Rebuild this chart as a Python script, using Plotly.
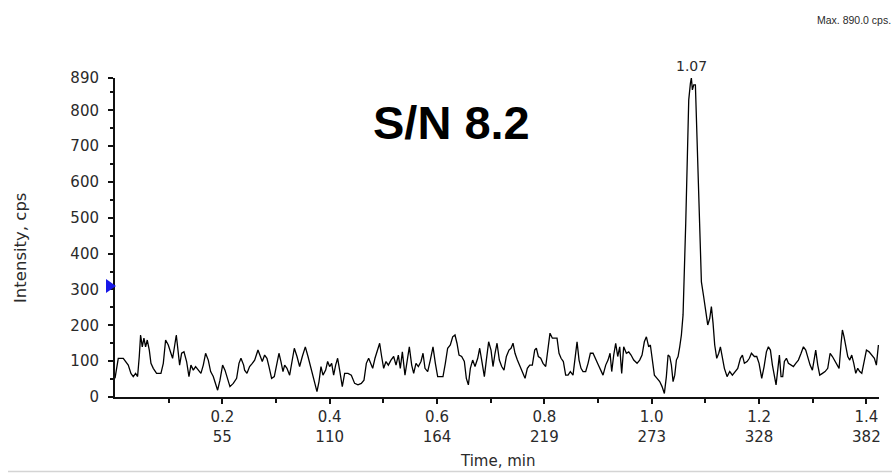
import plotly.graph_objects as go

# ---------------- data ----------------
t_seg1 = [0.000, 0.0061, 0.0154, 0.0198, 0.0247, 0.0297, 0.0340, 0.0384, 0.0421, 0.0452,
          0.0477, 0.0508, 0.0539, 0.0570, 0.0601, 0.0639, 0.0670, 0.0713, 0.0775, 0.0856,
          0.0900, 0.0943, 0.0993, 0.1042, 0.1073, 0.1104, 0.1142, 0.1173, 0.1204, 0.1241,
          0.1285, 0.1334, 0.1378, 0.1415, 0.1459, 0.1502, 0.1552, 0.1601, 0.1645, 0.1688,
          0.1738, 0.1782, 0.1831, 0.1875, 0.1912, 0.1956, 0.2005, 0.2049, 0.2098, 0.2142,
          0.2204, 0.2266, 0.2310, 0.2347, 0.2397]
i_seg1 = [52, 108, 108, 99, 89, 66, 57, 66, 57, 113,
          173, 140, 164, 140, 159, 131, 94, 80, 66, 66,
          94, 159, 145, 122, 108, 136, 173, 131, 89, 122,
          126, 99, 57, 89, 75, 85, 75, 66, 89, 122,
          103, 71, 57, 38, 19, 47, 89, 75, 47, 29,
          38, 52, 94, 108, 89]

t_seg2 = [0.2415, 0.2459, 0.2508, 0.2558, 0.2602, 0.2664, 0.2707, 0.2744, 0.2788, 0.2831,
          0.2869, 0.2918, 0.2968, 0.3005, 0.3055, 0.3092, 0.3130, 0.3161, 0.3204, 0.3254,
          0.3304, 0.3341, 0.3391, 0.3440, 0.3490, 0.3546, 0.3596, 0.3639, 0.3676, 0.3720,
          0.3763, 0.3801, 0.3838, 0.3875, 0.3925, 0.3962, 0.3999, 0.4037, 0.4074, 0.4111,
          0.4148, 0.4186, 0.4235, 0.4279, 0.4341, 0.4403, 0.4465, 0.4527, 0.4589, 0.4639,
          0.4683, 0.4726, 0.4776]
i_seg2 = [75, 66, 85, 94, 103, 131, 113, 99, 117, 108,
          85, 52, 57, 85, 122, 99, 71, 89, 80, 61,
          103, 136, 113, 85, 113, 140, 113, 89, 61, 38,
          15, 43, 85, 61, 75, 99, 85, 94, 61, 89,
          108, 75, 29, 66, 66, 61, 38, 34, 38, 47,
          94, 108, 89]

t_seg3 = [0.4801, 0.4844, 0.4894, 0.4931, 0.4968, 0.5006, 0.5049, 0.5093, 0.5142, 0.5192,
          0.5236, 0.5279, 0.5316, 0.5354, 0.5403, 0.5441, 0.5484, 0.5528, 0.5565, 0.5608,
          0.5652, 0.5701, 0.5739, 0.5776, 0.5826, 0.5875, 0.5925, 0.5969, 0.6012, 0.6062,
          0.6111, 0.6155, 0.6198, 0.6248, 0.6292, 0.6335, 0.6372, 0.6410, 0.6459, 0.6509,
          0.6546, 0.6584, 0.6621, 0.6664, 0.6708, 0.6758, 0.6795, 0.6832, 0.6882, 0.6919,
          0.6962, 0.7006, 0.7043, 0.7081, 0.7118, 0.7161]
i_seg3 = [80, 108, 136, 150, 113, 80, 99, 89, 103, 113,
          89, 117, 80, 126, 61, 94, 140, 89, 66, 94,
          85, 99, 122, 80, 71, 103, 140, 94, 57, 57,
          57, 94, 136, 145, 168, 173, 150, 117, 113, 99,
          52, 34, 80, 103, 85, 108, 136, 103, 57, 103,
          154, 131, 85, 122, 150, 103]

t_seg4 = [0.7205, 0.7248, 0.7292, 0.7341, 0.7379, 0.7416, 0.7453, 0.7497, 0.7540, 0.7590,
          0.7640, 0.7683, 0.7727, 0.7776, 0.7820, 0.7851, 0.7888, 0.7932, 0.7975, 0.8025,
          0.8068, 0.8105, 0.8149, 0.8192, 0.8236, 0.8273, 0.8311, 0.8354, 0.8397, 0.8441,
          0.8484, 0.8534, 0.8571, 0.8609, 0.8646, 0.8683, 0.8720, 0.8770, 0.8814, 0.8857,
          0.8907, 0.8957, 0.9006, 0.9050, 0.9093, 0.9143, 0.9186, 0.9224, 0.9255, 0.9292,
          0.9329, 0.9367, 0.9404, 0.9441, 0.9478, 0.9528]
i_seg4 = [85, 75, 113, 131, 136, 150, 122, 103, 89, 71,
          52, 80, 89, 89, 131, 136, 113, 108, 94, 85,
          136, 178, 164, 164, 164, 122, 108, 99, 61, 61,
          71, 61, 113, 154, 103, 80, 71, 71, 94, 122,
          122, 103, 89, 75, 61, 89, 103, 122, 71, 117,
          150, 113, 140, 66, 140, 122]

t_seg5 = [0.9572, 0.9615, 0.9665, 0.9727, 0.9776, 0.9820, 0.9863, 0.9901, 0.9944, 0.9975,
          1.0006, 1.0050, 1.0100, 1.0149, 1.0193, 1.0236, 1.0273, 1.0305, 1.0336, 1.0367,
          1.0398, 1.0429, 1.0460, 1.0491, 1.0522, 1.0553, 1.0584, 1.0609, 1.0634, 1.0665,
          1.0690, 1.0721, 1.0739, 1.0758, 1.0783, 1.0814, 1.0845, 1.0888, 1.0926, 1.0969,
          1.1007, 1.1044, 1.1081, 1.1112, 1.1143, 1.1174, 1.1212, 1.1249, 1.1280, 1.1317,
          1.1354, 1.1404, 1.1454, 1.1503, 1.1559, 1.1603, 1.1653, 1.1690, 1.1727, 1.1777,
          1.1820, 1.1858, 1.1913]
i_seg5 = [126, 117, 103, 94, 103, 117, 154, 168, 140, 145,
          113, 61, 52, 43, 29, 10, 57, 117, 113, 89,
          43, 61, 103, 113, 140, 173, 229, 331, 485, 675,
          829, 875, 890, 857, 871, 871, 712, 447, 321, 279,
          233, 201, 219, 252, 206, 145, 108, 122, 140, 113,
          80, 57, 71, 61, 71, 80, 108, 117, 94, 99,
          108, 122, 113]

t_seg6 = [1.1957, 1.2000, 1.2050, 1.2094, 1.2137, 1.2174, 1.2212, 1.2249, 1.2286, 1.2317,
          1.2348, 1.2379, 1.2410, 1.2441, 1.2472, 1.2510, 1.2547, 1.2591, 1.2640, 1.2684,
          1.2733, 1.2783, 1.2827, 1.2870, 1.2907, 1.2951, 1.2994, 1.3032, 1.3056, 1.3094,
          1.3131, 1.3181, 1.3230, 1.3280, 1.3324, 1.3367, 1.3404, 1.3448, 1.3491, 1.3529,
          1.3553, 1.3584, 1.3616, 1.3653, 1.3690, 1.3727, 1.3765, 1.3802, 1.3839, 1.3876,
          1.3914, 1.3957, 1.4001, 1.4050, 1.4100, 1.4149, 1.4186, 1.4224]
i_seg6 = [113, 94, 52, 85, 126, 140, 131, 89, 52, 34,
          75, 117, 57, 57, 99, 108, 94, 89, 85, 94,
          103, 122, 140, 131, 108, 89, 75, 103, 131, 89,
          61, 66, 71, 80, 122, 113, 103, 89, 80, 150,
          187, 168, 136, 113, 103, 117, 94, 66, 80, 71,
          66, 99, 131, 126, 117, 108, 89, 145]

time_ticks = [0.2, 0.4, 0.6, 0.8, 1.0, 1.2, 1.4]
time_tick_labels = ["0.2", "0.4", "0.6", "0.8", "1.0", "1.2", "1.4"]
scan_tick_labels = ["55", "110", "164", "219", "273", "328", "382"]
time_minor_ticks = [0.1, 0.3, 0.5, 0.7, 0.9, 1.1, 1.3]
intensity_ticks = [0, 100, 200, 300, 400, 500, 600, 700, 800, 890]
intensity_minor_ticks = [50, 150, 250, 350, 450, 550, 650, 750, 850]
x_max = 1.4235
sn_text = "S/N 8.2"
marker_level = 310

times = t_seg1 + t_seg2 + t_seg3 + t_seg4 + t_seg5 + t_seg6
intensity = i_seg1 + i_seg2 + i_seg3 + i_seg4 + i_seg5 + i_seg6
y_max = max(intensity)
peak_time = times[intensity.index(y_max)]

FONT = "DejaVu Sans"
TXT = "#2a2a2a"

fig = go.Figure()
fig.add_trace(go.Scatter(x=times, y=intensity, mode="lines",
                         line=dict(color="black", width=1.3), hoverinfo="skip",
                         showlegend=False))

W, H = 892, 473
ml, mr, mt, mb = 115, 13, 78, 76
pw, ph = W - ml - mr, H - mt - mb

fig.update_layout(
    width=W, height=H,
    margin=dict(l=ml, r=mr, t=mt, b=mb, pad=0),
    paper_bgcolor="white", plot_bgcolor="white",
    showlegend=False,
    font=dict(family=FONT, size=15, color=TXT),
    xaxis=dict(
        range=[0, x_max], showgrid=False, zeroline=False,
        showline=True, linecolor="#111", linewidth=2,
        tickmode="array", tickvals=time_ticks,
        ticktext=[f"{a}<br>{b}" for a, b in zip(time_tick_labels, scan_tick_labels)],
        ticks="outside", ticklen=5, tickwidth=1.5, tickcolor="#111",
        tickfont=dict(family=FONT, size=15, color=TXT),
        minor=dict(tickmode="array", tickvals=time_minor_ticks, ticks="outside",
                   ticklen=4, tickwidth=1.5, tickcolor="#111"),
    ),
    yaxis=dict(
        range=[0, y_max], showgrid=False, zeroline=False,
        showline=True, linecolor="#111", linewidth=2,
        tickmode="array", tickvals=intensity_ticks,
        ticks="outside", ticklen=5, tickwidth=1.5, tickcolor="#111",
        ticklabelstandoff=6,
        tickfont=dict(family=FONT, size=15, color=TXT),
        minor=dict(tickmode="array", tickvals=intensity_minor_ticks, ticks="outside",
                   ticklen=3, tickwidth=1.5, tickcolor="#111"),
    ),
)

def px_x(p):
    return (p - ml) / pw

def px_y(p):
    return (H - mb - p) / ph

annotations = [
    # y-axis title
    dict(text="Intensity, cps", textangle=-90, xref="paper", yref="paper",
         x=px_x(20), y=px_y(248), xanchor="center", yanchor="middle", showarrow=False,
         font=dict(family=FONT, size=16.5, color=TXT)),
    # x-axis title
    dict(text="Time, min", xref="paper", yref="paper", x=px_x(498), y=px_y(461),
         xanchor="center", yanchor="middle", showarrow=False,
         font=dict(family=FONT, size=15, color=TXT)),
    # peak label
    dict(text=f"{peak_time:.2f}", xref="x", yref="y", x=peak_time, y=y_max,
         xanchor="center", yanchor="bottom", yshift=2, showarrow=False,
         font=dict(family=FONT, size=14, color=TXT)),
    # max label
    dict(text=f"Max. {y_max:.1f} cps.", xref="paper", yref="paper", x=px_x(893), y=px_y(20),
         xanchor="right", yanchor="middle", showarrow=False,
         font=dict(family="Liberation Sans", size=10.5, color=TXT)),
    # S/N text
    dict(text=f"<b>{sn_text}</b>", xref="paper", yref="paper", x=px_x(451.5), y=px_y(122),
         xanchor="center", yanchor="middle", showarrow=False,
         font=dict(family="Liberation Sans", size=47, color="black")),
]
fig.update_layout(annotations=annotations)

fig.update_layout(shapes=[
    dict(type="path", xref="paper", yref="paper", xsizemode="pixel", ysizemode="pixel",
         xanchor=0, yanchor=marker_level / y_max, path="M -9,7 L 1,0 L -9,-7 Z",
         fillcolor="#1818e8", line=dict(width=0), layer="above"),
    dict(type="line", xref="paper", yref="paper", x0=px_x(8), x1=px_x(892),
         y0=px_y(471.5), y1=px_y(471.5), line=dict(color="#d4d4d4", width=1.5)),
])

fig.write_html("out.html")
